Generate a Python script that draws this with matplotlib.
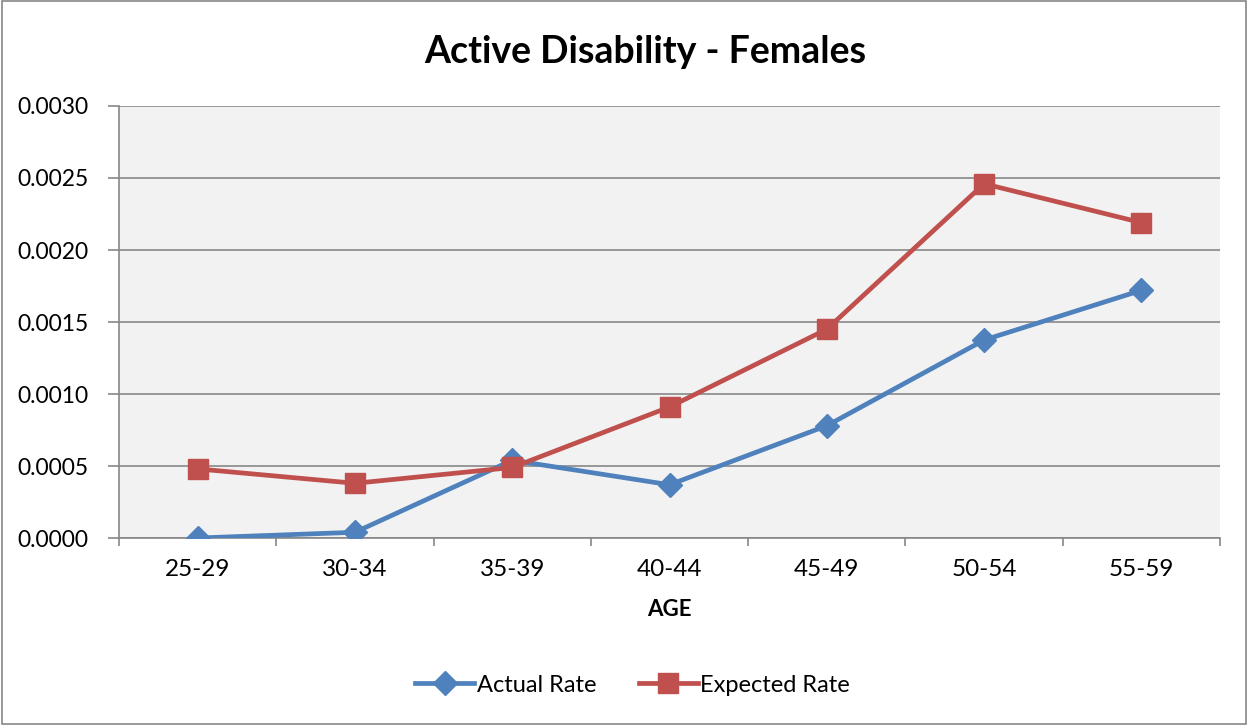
import matplotlib

matplotlib.use("Agg")
import matplotlib.pyplot as plt
from matplotlib.patches import Rectangle

plt.rcParams["font.family"] = ["Lato", "DejaVu Sans"]

ages = ["25-29", "30-34", "35-39", "40-44", "45-49", "50-54", "55-59"]
actual_rate = [0.0000, 0.00004, 0.00054, 0.00037, 0.00078, 0.001375, 0.00172]
expected_rate = [0.00048, 0.00038, 0.00049, 0.00091, 0.00145, 0.00246, 0.00219]
y_ticks = [0.0000, 0.0005, 0.0010, 0.0015, 0.0020, 0.0025, 0.0030]

BLUE = "#4F81BD"
RED = "#C0504D"
GRID = "#888888"

fig = plt.figure(figsize=(12.48, 7.25), dpi=100)
fig.patches.append(Rectangle((0.002, 0.002), 0.996, 0.996, transform=fig.transFigure,
                             fill=False, edgecolor="#888888", linewidth=1.2))
ax = fig.add_axes([0.0954, 0.2579, 0.8822, 0.5959])
ax.set_facecolor("#F2F2F2")

x = list(range(len(ages)))
ax.plot(x, actual_rate, color=BLUE, linewidth=3.4, marker="D", markersize=12,
        label="Actual Rate", zorder=3)
ax.plot(x, expected_rate, color=RED, linewidth=3.4, marker="s", markersize=14,
        label="Expected Rate", zorder=3)

ax.set_xlim(-0.5, len(ages) - 0.5)
ax.set_ylim(0, 0.003)
ax.set_yticks(y_ticks)
ax.set_yticklabels([f"{v:.4f}" for v in y_ticks], fontsize=16.5)
ax.set_xticks(x)
ax.set_xticklabels(ages, fontsize=17.5)
ax.set_xticks([i - 0.5 for i in range(len(ages) + 1)], minor=True)
ax.tick_params(axis="x", which="major", length=0, pad=15)
ax.tick_params(axis="x", which="minor", length=6, color=GRID, width=1.2)
ax.tick_params(axis="y", length=8, color=GRID, width=1.2, pad=14)

ax.grid(axis="y", color=GRID, linewidth=1.2, zorder=0)
ax.set_axisbelow(True)
for side in ("top", "right"):
    ax.spines[side].set_visible(False)
for side in ("left", "bottom"):
    ax.spines[side].set_color(GRID)
    ax.spines[side].set_linewidth(1.2)

ax.set_xlabel("AGE", fontsize=16, fontweight="bold", labelpad=14)
fig.text(0.517, 0.928, "Active Disability - Females", ha="center", va="center",
         fontsize=27, fontweight="bold")

fig.legend(loc="center", bbox_to_anchor=(0.507, 0.055), ncol=2, frameon=False,
           fontsize=17, handlelength=2.5, columnspacing=1.8, handletextpad=0.1)

fig.savefig("out.png", dpi=100, facecolor="white")
